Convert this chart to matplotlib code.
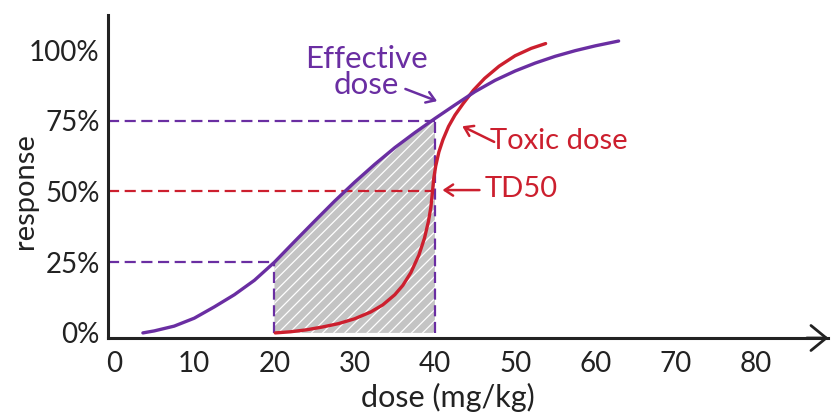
import numpy as np
import matplotlib
matplotlib.use('Agg')
import matplotlib.pyplot as plt

PURPLE = '#6a2ea2'
RED = '#cc1f2e'
GREY = '#c4c4c4'
INK = '#222222'

# effective dose curve: dose (mg/kg) vs response (%)
eff_dose = [3.6, 5, 7.5, 10, 12.5, 15, 17.5, 20, 22.5, 25, 27.5, 30, 32.5, 35,
            37.5, 40, 42.5, 45, 47.5, 50, 52.5, 55, 57.5, 60, 62.9]
eff_resp = [0, 0.7, 2.4, 5.2, 9.2, 13.5, 18.6, 25, 32.3, 39.5, 46.6, 53.3, 59.6, 65.5,
            70.8, 75.8, 80.6, 85.3, 89.3, 92.6, 95.4, 97.8, 99.8, 101.5, 103.2]

# toxic dose curve
tox_dose = [20.1, 22, 24, 26, 28, 30, 32, 33.5, 35, 36, 37, 38, 38.7, 39.2, 39.5,
            39.7, 39.85, 40.1, 40.5, 41, 41.7, 42.5, 43.5, 44.8, 46.2, 48, 50, 52, 53.8]
tox_resp = [0, 0.4, 1.1, 2.1, 3.3, 5.0, 7.4, 9.9, 13.5, 16.8, 21.3, 27.5, 33.5, 39.5, 44.5,
            50, 54.5, 59, 64, 68.3, 73, 77, 81, 85.8, 90, 94.3, 98, 100.6, 102.3]

x_ticks = [0, 10, 20, 30, 40, 50, 60, 70, 80]
y_ticks = [0, 25, 50, 75, 100]
y_labels = ['0%', '25%', '50%', '75%', '100%']

plt.rcParams['font.family'] = ['Lato', 'DejaVu Sans']
plt.rcParams['hatch.linewidth'] = 0.9

fig = plt.figure(figsize=(8.32, 4.19), dpi=100)
ax = fig.add_axes([108 / 832, 81 / 419, 720 / 832, 323 / 419])
ax.set_xlim(-0.75, 89)
ax.set_ylim(-1.8, 112.4)

# shaded window between 20 and 40 mg/kg under the effective curve
ed = np.array(eff_dose)
er = np.array(eff_resp)
m = (ed >= 20) & (ed <= 40)
ax.fill_between(ed[m], er[m], 0, facecolor=GREY, edgecolor='white', hatch='///', linewidth=0)

# guide lines
dash = (5, 2.5)
ax.plot([-0.75, 20], [25, 25], color=PURPLE, lw=1.6, dashes=dash)
ax.plot([20, 20], [0, 25], color=PURPLE, lw=1.6, dashes=dash)
ax.plot([-0.75, 40], [75, 75], color=PURPLE, lw=1.6, dashes=dash)
ax.plot([40, 40], [0, 75], color=PURPLE, lw=1.6, dashes=dash)
ax.plot([-0.75, 39.7], [50, 50], color=RED, lw=1.6, dashes=dash)

ax.plot(tox_dose, tox_resp, color=RED, lw=2.4, solid_capstyle='round', solid_joinstyle='round')
ax.plot(eff_dose, eff_resp, color=PURPLE, lw=2.4, solid_capstyle='round', solid_joinstyle='round')

# labels with arrows
arrow = '->,head_length=0.6,head_width=0.4'
ax.text(31.5, 92.2, 'Effective\ndose', color=PURPLE, fontsize=22.5, ha='center', va='center',
        linespacing=0.9)
ax.annotate('', xy=(40.6, 81.6), xytext=(36.0, 86.6),
            arrowprops=dict(arrowstyle=arrow, color=PURPLE, lw=1.8))
ax.text(55.5, 67.8, 'Toxic dose', color=RED, fontsize=21, ha='center', va='center')
ax.annotate('', xy=(43.1, 73.5), xytext=(47.7, 67.1),
            arrowprops=dict(arrowstyle=arrow, color=RED, lw=1.8))
ax.text(50.7, 50.9, 'TD50', color=RED, fontsize=21, ha='center', va='center')
ax.annotate('', xy=(40.6, 50.5), xytext=(45.9, 50.5),
            arrowprops=dict(arrowstyle=arrow, color=RED, lw=1.8))

# axes styling
for s in ['top', 'right']:
    ax.spines[s].set_visible(False)
for s in ['left', 'bottom']:
    ax.spines[s].set_linewidth(2.2)
    ax.spines[s].set_color(INK)
ax.annotate('', xy=(89.4, -1.8), xytext=(86, -1.8), annotation_clip=False,
            arrowprops=dict(arrowstyle='->,head_length=1.1,head_width=0.9', color=INK, lw=2.0))

ax.set_xticks(x_ticks)
ax.set_yticks(y_ticks)
ax.set_yticklabels(y_labels)
ax.tick_params(length=0, labelsize=20, colors=INK)
ax.tick_params(axis='x', pad=9)
ax.tick_params(axis='y', pad=6)

ax.set_xlabel('dose (mg/kg)', fontsize=22, color=INK, va='center')
ax.xaxis.set_label_coords(0.472, -0.183)
ax.set_ylabel('response', fontsize=21, color=INK, va='center')
ax.yaxis.set_label_coords(-0.115, 0.455)

fig.savefig('out.png', dpi=100)
